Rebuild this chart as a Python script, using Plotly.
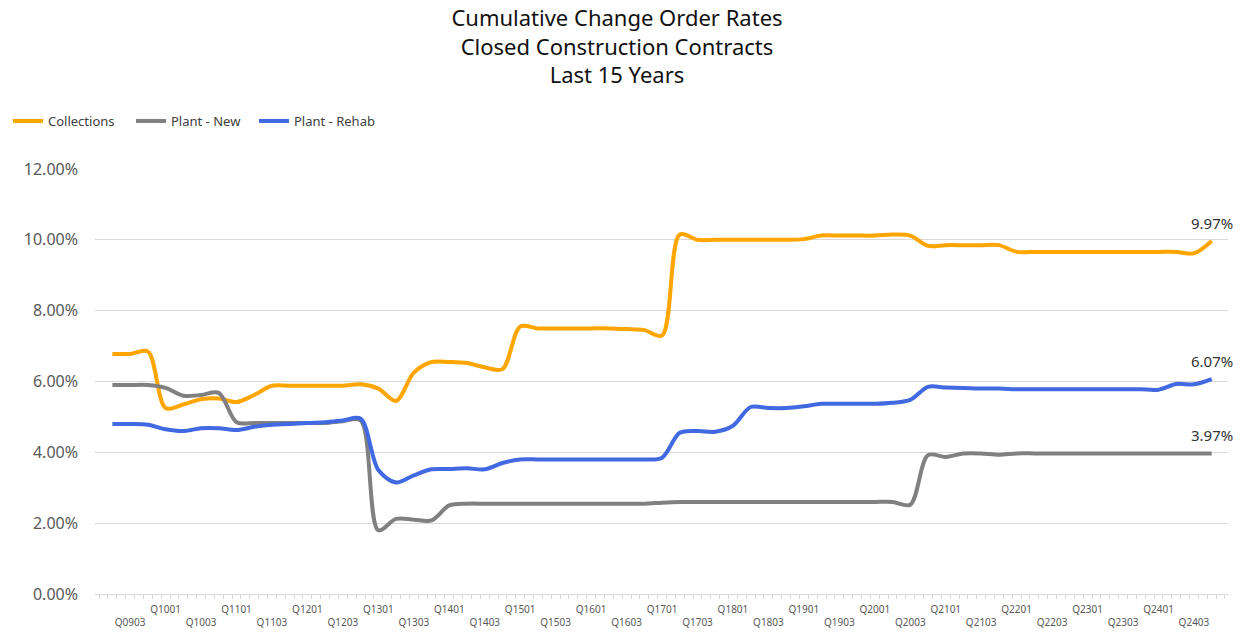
import plotly.graph_objects as go

# Quarter labels (Q0902 ... Q2404)
quarters = ["Q0902", "Q0903", "Q0904"] + [f"Q{y:02d}0{q}" for y in range(10, 25) for q in (1, 2, 3, 4)]

collections = [6.78, 6.78, 6.85, 5.25, 5.35, 5.50, 5.52, 5.42, 5.62, 5.88,
               5.88, 5.88, 5.88, 5.88, 5.92, 5.80, 5.45, 6.25, 6.55, 6.55,
               6.52, 6.40, 6.35, 7.55, 7.50, 7.50, 7.50, 7.50, 7.50, 7.48,
               7.45, 7.30, 10.15, 10.00, 10.00, 10.00, 10.00, 10.00, 10.00, 10.02,
               10.12, 10.12, 10.12, 10.12, 10.15, 10.12, 9.83, 9.85, 9.85, 9.85,
               9.85, 9.66, 9.66, 9.66, 9.66, 9.66, 9.66, 9.66, 9.66, 9.66,
               9.66, 9.62, 9.97]

plant_new = [5.90, 5.90, 5.90, 5.82, 5.60, 5.62, 5.68, 4.85, 4.83, 4.83,
             4.83, 4.83, 4.83, 4.88, 4.90, 1.80, 2.12, 2.10, 2.08, 2.50,
             2.55, 2.55, 2.55, 2.55, 2.55, 2.55, 2.55, 2.55, 2.55, 2.55,
             2.55, 2.58, 2.60, 2.60, 2.60, 2.60, 2.60, 2.60, 2.60, 2.60,
             2.60, 2.60, 2.60, 2.60, 2.60, 2.52, 3.92, 3.87, 3.97, 3.97,
             3.93, 3.97, 3.97, 3.97, 3.97, 3.97, 3.97, 3.97, 3.97, 3.97,
             3.97, 3.97, 3.97]

plant_rehab = [4.80, 4.80, 4.78, 4.65, 4.60, 4.68, 4.68, 4.63, 4.72, 4.78,
               4.80, 4.83, 4.85, 4.90, 4.95, 3.50, 3.15, 3.35, 3.52, 3.53,
               3.55, 3.52, 3.70, 3.80, 3.80, 3.80, 3.80, 3.80, 3.80, 3.80,
               3.80, 3.85, 4.55, 4.60, 4.58, 4.75, 5.28, 5.25, 5.25, 5.30,
               5.37, 5.37, 5.37, 5.37, 5.40, 5.48, 5.85, 5.83, 5.82, 5.80,
               5.80, 5.78, 5.78, 5.78, 5.78, 5.78, 5.78, 5.78, 5.78, 5.77,
               5.93, 5.92, 6.07]

series_names = ["Collections", "Plant - New", "Plant - Rehab"]
series_colors = ["#FFA500", "#808080", "#4169E1"]
y_ticks = [0, 2, 4, 6, 8, 10, 12]
y_ticktext = [f"{v:.2f}%" for v in y_ticks]

x = list(range(len(quarters)))
tick_idx = [i for i, q in enumerate(quarters) if q.endswith("01") or q.endswith("03")]
tick_text = [(" <br>" + quarters[i]) if quarters[i].endswith("03") else quarters[i] for i in tick_idx]

# page body adds an 8px offset; figure is sized/laid out to compensate
W, H = 1239, 624

fig = go.Figure()
for name, vals, col in zip(series_names, [collections, plant_new, plant_rehab], series_colors):
    fig.add_trace(go.Scatter(
        x=x, y=vals, name=name, mode="lines",
        line=dict(color=col, width=4, shape="spline", smoothing=0.9),
        hoverinfo="skip",
    ))
    fig.add_annotation(
        x=x[-1], y=vals[-1], text=f"{vals[-1]:.2f}%",
        showarrow=False, yshift=18, xanchor="center", yanchor="middle",
        font=dict(size=15, color="#333333"),
    )

fig.update_layout(
    width=W, height=H,
    paper_bgcolor="white", plot_bgcolor="white",
    font=dict(family="Noto Sans, Open Sans, sans-serif", color="#595959"),
    margin=dict(l=87, r=19, t=161, b=38, autoexpand=False),
    title=dict(
        text="Cumulative Change Order Rates<br>Closed Construction Contracts<br>Last 15 Years",
        x=609 / W, xref="container", xanchor="center",
        y=1 - 18 / H, yref="container", yanchor="top",
        font=dict(size=22, color="#111111"),
    ),
    legend=dict(
        orientation="h", xref="container", yref="container",
        x=-9 / W, xanchor="left", y=1 - 113 / H, yanchor="middle",
        font=dict(size=13, color="#404040"),
        entrywidth=78, entrywidthmode="pixels",
    ),
    showlegend=True,
)

fig.update_xaxes(
    range=[-0.98, 62.92], automargin=False,
    tickmode="array", tickvals=tick_idx, ticktext=tick_text,
    tickfont=dict(size=10, color="#595959"),
    showgrid=False, zeroline=False,
    showline=True, linecolor="#d9d9d9", linewidth=1,
    ticks="", ticklabelstandoff=6,
    minor=dict(ticks="outside", dtick=0.5, tick0=0.25, ticklen=4, tickcolor="#d9d9d9", showgrid=False),
)

fig.update_yaxes(
    range=[0, 12], tickmode="array", tickvals=y_ticks, ticktext=y_ticktext,
    automargin=False,
    tickfont=dict(size=16, color="#595959"),
    showgrid=True, gridcolor="#d9d9d9", gridwidth=1,
    zeroline=True, zerolinecolor="#d9d9d9",
    showline=False, ticklabelstandoff=16,
)

fig.write_html("out.html")
